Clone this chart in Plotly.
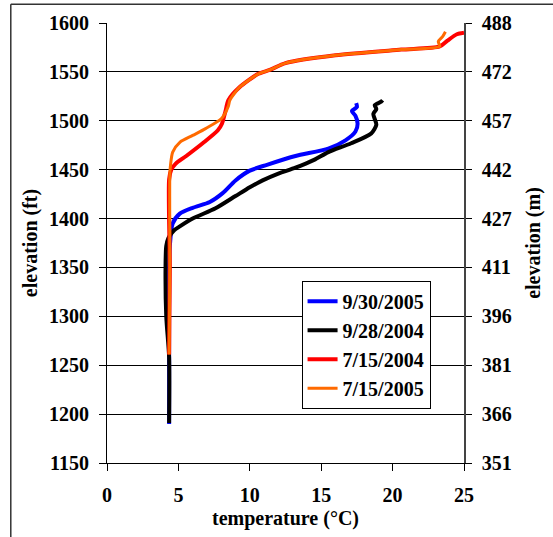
import plotly.graph_objects as go

# ---- data (temperature °C, elevation ft) ----
blue_t = [4.35, 4.35, 4.35, 4.4, 4.6, 5.1, 6.0, 7.2, 8.1, 9.0, 10.0, 11.2, 13.2, 15.5, 16.7, 17.4, 17.55, 17.4, 17.15, 17.5, 17.45]
blue_e = [1190, 1260, 1350, 1372, 1395, 1405, 1411, 1417, 1426, 1439, 1449, 1455, 1464, 1471.5, 1480, 1489, 1497, 1505, 1510, 1514, 1518]

black_t = [4.35, 4.35, 4.15, 4.1, 4.15, 4.3, 4.7, 5.1, 6.0, 7.6, 9.0, 10.0, 10.9, 12.0, 13.2, 14.5, 15.5, 17.1, 18.5, 18.86, 18.65, 18.86, 18.75, 19.2, 19.3]
black_e = [1191, 1258, 1300, 1350, 1372, 1380, 1388, 1392, 1400, 1410.5, 1423, 1432, 1439, 1446, 1452, 1460, 1468, 1477, 1487, 1496, 1507, 1512, 1516, 1519.5, 1521]

red_t = [4.35, 4.4, 4.35, 4.5, 4.8, 5.55, 6.7, 7.75, 8.05, 8.3, 8.5, 9.26, 10.6, 11.4, 12.5, 16.0, 20.6, 23.3, 23.84, 24.5, 25.0]
red_e = [1261, 1350, 1440, 1450, 1456, 1464, 1477, 1490, 1497, 1510, 1521, 1534, 1548, 1552, 1559, 1567, 1572.8, 1576, 1582, 1588.5, 1590]

orange_t = [4.35, 4.4, 4.4, 4.45, 4.6, 5.1, 6.0, 6.9, 8.0, 8.5, 8.6, 9.26, 10.6, 11.4, 12.5, 16.0, 20.6, 23.3, 23.2, 23.5, 23.7]
orange_e = [1261, 1350, 1445, 1455, 1468, 1478, 1485, 1492, 1502, 1515, 1521, 1534, 1548, 1552, 1559, 1567, 1572.8, 1576, 1581, 1586, 1591]

series_names = ["9/30/2005", "9/28/2004", "7/15/2004", "7/15/2005"]
series_colors = ["#0000FF", "#000000", "#FF0000", "#FF6A00"]
series_widths = [4, 4, 4, 3]

x_ticks = [0, 5, 10, 15, 20, 25]
ft_ticks = [1150, 1200, 1250, 1300, 1350, 1400, 1450, 1500, 1550, 1600]
m_ticklabels = ["351", "366", "381", "396", "411", "427", "442", "457", "472", "488"]
FT2M = 0.3048

FAM = "Liberation Serif, Times New Roman, serif"
bold = dict(family=FAM, size=20, color="black", weight="bold")

fig = go.Figure()
for t, e, name, c, w in zip([blue_t, black_t, red_t, orange_t],
                            [blue_e, black_e, red_e, orange_e],
                            series_names, series_colors, series_widths):
    fig.add_trace(go.Scatter(x=t, y=e, mode="lines", name=name,
                             line=dict(color=c, width=w, shape="spline", smoothing=0.7)))

# invisible trace to attach the metre axis
fig.add_trace(go.Scatter(x=[None], y=[None], yaxis="y2", showlegend=False, hoverinfo="skip"))

fig.update_layout(
    width=553, height=537,
    margin=dict(l=107, r=86, t=23, b=74),
    paper_bgcolor="white", plot_bgcolor="white",
    font=bold,
    showlegend=True,
    legend=dict(x=0.545, y=0.414, xanchor="left", yanchor="top",
                bgcolor="white", bordercolor="black", borderwidth=1,
                font=bold, tracegroupgap=0),
    xaxis=dict(range=[0, 25], tickvals=x_ticks, showgrid=False, zeroline=False,
               showline=True, linecolor="black", linewidth=1,
               ticks="outside", ticklen=7, tickcolor="black",
               tickfont=bold, ticklabelstandoff=7),
    yaxis=dict(range=[1150, 1600], tickvals=ft_ticks, showgrid=True, gridcolor="black",
               gridwidth=1, zeroline=False, showline=True, linecolor="black", linewidth=1,
               ticks="outside", ticklen=7, tickcolor="black",
               tickfont=bold, ticklabelstandoff=6,
               title=dict(text="elevation (ft)", standoff=6, font=bold)),
    yaxis2=dict(range=[1150 * FT2M, 1600 * FT2M], tickvals=[v * FT2M for v in ft_ticks],
                ticktext=m_ticklabels, overlaying="y", side="right", showgrid=False,
                zeroline=False, showline=True, linecolor="#444444", linewidth=1.5,
                ticks="outside", ticklen=6, tickcolor="black",
                tickfont=bold, ticklabelstandoff=6,
                title=dict(text="elevation (m)", standoff=15, font=bold)),
)

# x-axis title placed tight under the tick labels, as in the original
fig.add_annotation(text="temperature (°C)", xref="paper", yref="paper", x=0.5, y=-0.125,
                   xanchor="center", yanchor="middle", showarrow=False, font=bold)

# outer frame (left and top edges visible)
fig.add_shape(type="line", xref="paper", yref="paper", x0=-0.2695, x1=-0.2695, y0=-0.3, y1=1.0424,
              line=dict(color="#333333", width=1.5))
fig.add_shape(type="line", xref="paper", yref="paper", x0=-0.2695, x1=1.3, y0=1.0424, y1=1.0424,
              line=dict(color="#333333", width=1.5))

fig.write_html("out.html")
